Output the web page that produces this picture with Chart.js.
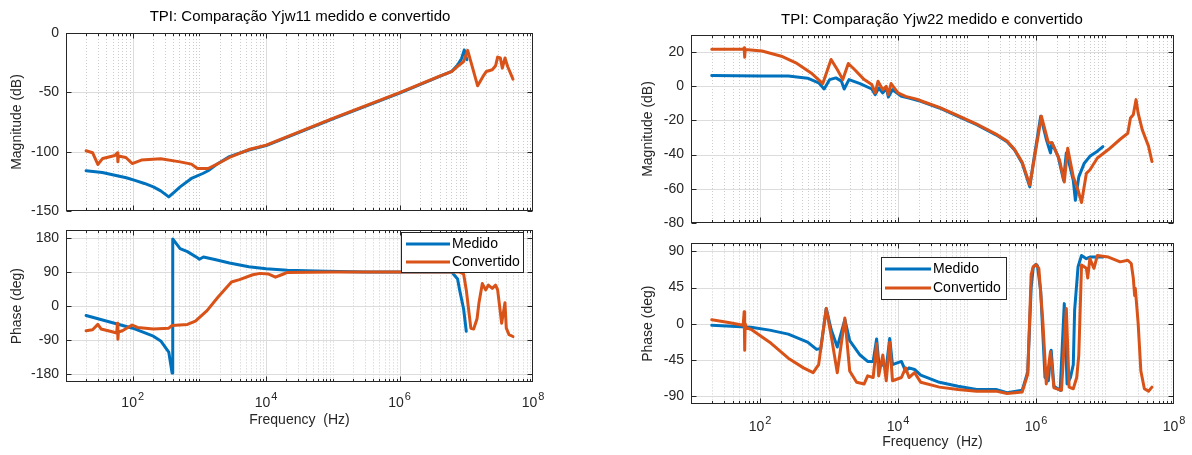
<!DOCTYPE html>
<html><head><meta charset="utf-8">
<script src="https://cdn.jsdelivr.net/npm/chart.js@4.4.1/dist/chart.umd.min.js"></script>
<style>
html,body{margin:0;padding:0;background:#fff;overflow:hidden;}
body{width:1192px;height:455px;position:relative;}
canvas{position:absolute;}
</style></head><body>
<canvas id="mag11" width="600" height="230" style="left:0px;top:0px;width:600px;height:230px"></canvas>
<canvas id="ph11" width="600" height="240" style="left:0px;top:215px;width:600px;height:240px"></canvas>
<canvas id="mag22" width="600" height="240" style="left:632px;top:0px;width:600px;height:240px"></canvas>
<canvas id="ph22" width="600" height="227" style="left:632px;top:228px;width:600px;height:227px"></canvas>
<script>
// ---------------- DATA ----------------
const seriesNames = ['Medido', 'Convertido'];
const xTickValues = [1e2, 1e4, 1e6, 1e8];
const xTickBase = ['10', '10', '10', '10'];
const xTickExp = ['2', '4', '6', '8'];
const titles = ['TPI: Comparação Yjw11 medido e convertido', 'TPI: Comparação Yjw22 medido e convertido'];
const mag11Ticks = [-150, -100, -50, 0];
const ph11Ticks = [-180, -90, 0, 90, 180];
const mag22Ticks = [-80, -60, -40, -20, 0, 20];
const ph22Ticks = [-90, -45, 0, 45, 90];

// Yjw11 magnitude
const f11MagMed = [20, 35, 54, 80, 105, 150, 204, 263, 347, 420, 513, 759, 1122, 1349, 1905, 2818, 5495, 1e4, 1e5, 1e6, 4.07e6, 6.03e6, 7.41e6, 8.51e6, 9.33e6, 1.02e7];
const mag11Med = [-116.1, -117.5, -119.8, -122, -124, -126.8, -129.7, -133, -138.1, -134, -129.7, -122.6, -118.4, -116.1, -109.9, -104.2, -98.6, -94.9, -72.4, -50.6, -36.3, -32.4, -27, -21.5, -14.3, -22.5];
const f11MagConv = [20, 25, 30, 35.5, 54, 59, 60, 61, 79, 98, 135, 263, 513, 759, 933, 1349, 1905, 2818, 5495, 1e4, 1e5, 1e6, 4.07e6, 6.03e6, 7.41e6, 9.12e6, 1.05e7, 1.48e7, 1.78e7, 2.0e7, 2.45e7, 2.75e7, 2.95e7, 3.24e7, 3.47e7, 3.8e7, 4.17e7, 5.01e7];
const mag11Conv = [-99.2, -100.9, -110.8, -105.7, -103.2, -101, -108.6, -103.7, -104.9, -110, -107.1, -106, -108.6, -110.5, -114.2, -114.2, -110, -104.9, -98.2, -94.5, -72, -50.2, -36.2, -32.5, -28.2, -24, -14.6, -44.5, -36.6, -32.4, -31, -27.6, -20.3, -21.1, -29.6, -21.1, -28.2, -38.9];
// Yjw11 phase
const f11PhMed = [20, 100, 204, 263, 347, 389, 398, 513, 661, 933, 1000, 1148, 1698, 2818, 5495, 1e4, 20893, 77625, 316228, 6.03e6, 7.41e6, 7.94e6, 9.12e6, 1e7];
const ph11Med = [-24.4, -58, -79, -91.6, -121, -176, 177.5, 152, 144, 128, 124, 130, 123, 114, 104, 99, 95, 92, 90.5, 90, 72, 43, -7.5, -66];
const f11PhConv = [20, 25, 30, 33.5, 46, 57.5, 59, 60, 61, 70, 98, 118, 204, 347, 389, 661, 871, 1300, 1905, 3020, 3981, 6310, 8128, 10715, 13800, 18197, 20893, 1e5, 7.94e6, 9.12e6, 1e7, 1.17e7, 1.29e7, 1.45e7, 1.55e7, 1.74e7, 1.95e7, 2.14e7, 2.45e7, 2.75e7, 2.95e7, 3.39e7, 3.8e7, 3.98e7, 4.37e7, 5.01e7];
const ph11Conv = [-64.7, -62, -48, -60, -66, -70.6, -45, -87, -68, -64.7, -49.6, -56, -60, -58, -51, -48, -39.5, -11.7, 24.4, 64, 70, 83, 86.6, 85, 76.6, 85, 89, 90, 90, 85, 43, -58, -60, -33, 9, 59.7, 43, 55.5, 47, 55.5, 43, -45, 9, -58, -75, -80];

// Yjw22 magnitude
const f22MagMed = [20, 100, 257, 490, 708, 851, 1023, 1259, 1514, 1660, 1950, 2818, 4169, 4677, 5248, 6026, 6761, 7244, 8318, 11220, 14454, 21380, 39811, 74131, 138038, 263027, 380189, 489779, 630957, 812831, 912011, 1.17e6, 1.41e6, 1.62e6, 1.70e6, 2.09e6, 2.51e6, 2.75e6, 3.02e6, 3.47e6, 3.72e6, 4.17e6, 5.01e6, 6.03e6, 7.76e6, 9.33e6];
const mag22Med = [6.3, 6.0, 6.0, 4.7, 2, -1.6, 3.9, 4.9, 3, -1.6, 3.9, 1.6, -1.6, -4.9, -1, -3.9, -1, -6.3, -2, -5.9, -6.9, -8.8, -12.7, -17.6, -22.5, -28.4, -32.4, -37.3, -45, -58.8, -45, -17.6, -31, -39, -33, -41, -55, -39, -45, -55, -66.7, -53, -45, -41, -38, -35.3];
const f22MagConv = [20, 57, 59, 60, 61, 107, 204, 331, 550, 813, 1072, 1318, 1585, 1905, 2344, 3236, 4169, 4677, 5129, 6026, 6761, 7244, 7943, 10000, 12882, 18621, 23988, 39811, 74131, 138038, 263027, 380189, 489779, 630957, 812831, 912011, 1.2e6, 1.51e6, 1.70e6, 2.19e6, 2.57e6, 2.88e6, 3.47e6, 4.07e6, 4.57e6, 5.37e6, 6.03e6, 7.76e6, 1.12e7, 1.66e7, 2.14e7, 2.34e7, 2.57e7, 2.82e7, 3.02e7, 3.47e7, 4.27e7, 4.79e7];
const mag22Conv = [21.6, 21.6, 22.5, 17, 21.5, 20.6, 17.6, 13.7, 7.8, 1.6, 15.7, 9.8, 3.9, 13.3, 9.8, 3.9, 1, -3.9, 2.9, -2, 0, -4.9, 1.6, -3.9, -5.9, -7.5, -9.2, -12.3, -17.2, -22.1, -28, -32, -37, -44.5, -57.8, -46, -17.6, -33, -33, -43, -56, -36.3, -53, -60.8, -68, -51, -49, -42, -37, -31, -27.5, -18.6, -16.7, -7.8, -15.7, -25.5, -35, -44];
// Yjw22 phase
const f22PhMed = [20, 74, 138, 257, 490, 661, 759, 912, 1072, 1318, 1698, 1995, 2818, 3631, 4365, 4898, 5248, 6761, 7586, 8318, 11220, 12882, 14454, 17378, 21380, 39811, 74131, 138038, 263027, 380189, 630957, 758578, 851138, 912011, 1e6, 1.05e6, 1.17e6, 1.35e6, 1.51e6, 1.66e6, 1.82e6, 2.24e6, 2.57e6, 2.82e6, 3.16e6, 3.47e6, 3.63e6, 4.07e6, 4.57e6, 5.37e6, 6.03e6, 9.33e6];
const ph22Med = [-2, -4.4, -8, -13, -23, -32, -31, 19, -7, -29, 5, -21, -39, -47, -47, -19, -47, -55, -18.4, -51, -47, -59, -55, -57, -64, -73, -78, -82, -82, -86, -83, -60, 45, 70, 74, 72, 40.8, -67, -71, -33, -78, -83, 25, -75, -67, -51, 17, 71, 85, 81, 83, 83];
const f22PhConv = [20, 35, 57, 59, 60, 61, 63, 74, 138, 257, 427, 589, 708, 912, 1096, 1318, 1698, 1995, 2512, 3236, 3631, 4365, 4898, 5248, 6026, 6761, 7586, 8318, 11220, 12882, 14454, 17378, 21380, 39811, 74131, 138038, 263027, 380189, 630957, 758578, 851138, 912011, 1e6, 1.1e6, 1.26e6, 1.41e6, 1.62e6, 1.82e6, 2.34e6, 2.75e6, 3.02e6, 3.47e6, 3.89e6, 4.17e6, 4.57e6, 5.37e6, 5.62e6, 6.03e6, 6.92e6, 7.76e6, 1.12e7, 1.66e7, 2.14e7, 2.4e7, 2.57e7, 2.69e7, 2.75e7, 3.02e7, 3.31e7, 3.72e7, 4.27e7, 4.79e7];
const ph22Conv = [5, 1.6, -2, 15, -33, 0, -5, -7, -23, -43, -55, -61, -51, 19, -19, -61, 7, -59, -73, -75, -65, -67, -25, -65, -39, -71, -23, -71, -67, -55, -67, -61, -73, -79, -82, -84, -84, -87, -85, -63, 61, 71, 73.6, 69, 1, -75, -35, -80, -83, 19, -79, -81, -67, -39, 73, 69, 57, 81, 69, 85, 83, 77, 79, 75, 57, 35, 44, 1, -59, -81, -84, -79];

// ---------------- STYLE ----------------
const FONT = '"Liberation Sans", Arial, Helvetica, sans-serif';
const TXT = '#262626';
const BLUE = '#0072BD';
const ORANGE = '#D95319';

const axesPlugin = {
  id: 'matlabAxes',
  beforeDatasetsDraw(chart) {
    const {ctx, chartArea: a} = chart;
    const x = chart.scales.x, y = chart.scales.y;
    ctx.save();
    ctx.lineWidth = 1;
    ctx.strokeStyle = '#cccccc';
    ctx.setLineDash([1, 2]);
    for (let e = 1; e < 8; e++) for (let m = 1; m <= 9; m++) {
      const v = m * Math.pow(10, e);
      if (v <= x.min || v >= x.max || xTickValues.includes(v)) continue;
      const px = Math.round(x.getPixelForValue(v)) + 0.5;
      ctx.beginPath(); ctx.moveTo(px, a.top); ctx.lineTo(px, a.bottom); ctx.stroke();
    }
    ctx.setLineDash([]);
    ctx.strokeStyle = '#dcdcdc';
    xTickValues.forEach(v => {
      if (v <= x.min || v >= x.max) return;
      const px = Math.round(x.getPixelForValue(v)) + 0.5;
      ctx.beginPath(); ctx.moveTo(px, a.top); ctx.lineTo(px, a.bottom); ctx.stroke();
    });
    y.ticks.forEach(t => {
      const py = Math.round(y.getPixelForValue(t.value)) + 0.5;
      if (py <= a.top + 1 || py >= a.bottom - 1) return;
      ctx.beginPath(); ctx.moveTo(a.left, py); ctx.lineTo(a.right, py); ctx.stroke();
    });
    ctx.restore();
  },
  afterDatasetsDraw(chart) {
    const {ctx, chartArea: a} = chart;
    const x = chart.scales.x, y = chart.scales.y;
    ctx.save();
    ctx.strokeStyle = TXT;
    ctx.lineWidth = 1;
    const L = Math.round(a.left) + 0.5, R = Math.round(a.right) - 0.5;
    const T = Math.round(a.top) + 0.5, B = Math.round(a.bottom) - 0.5;
    for (let e = 1; e < 8; e++) for (let m = 1; m <= 9; m++) {
      const v = m * Math.pow(10, e);
      if (v <= x.min || v >= x.max) continue;
      const len = xTickValues.includes(v) ? 5 : 2.5;
      const px = Math.round(x.getPixelForValue(v)) + 0.5;
      ctx.beginPath(); ctx.moveTo(px, B); ctx.lineTo(px, B - len); ctx.moveTo(px, T); ctx.lineTo(px, T + len); ctx.stroke();
    }
    y.ticks.forEach(t => {
      const py = Math.round(y.getPixelForValue(t.value)) + 0.5;
      ctx.beginPath(); ctx.moveTo(L, py); ctx.lineTo(L + 5, py); ctx.moveTo(R, py); ctx.lineTo(R - 5, py); ctx.stroke();
    });
    ctx.strokeRect(L, T, R - L, B - T);
    ctx.restore();
  },
  afterDraw(chart) {
    const opts = chart.options.plugins.matlabAxes || {};
    const ctx = chart.ctx;
    // x tick labels: 10 with raised exponent, positioned by the x scale
    if (opts.labelBaseline) {
      const x = chart.scales.x, a = chart.chartArea;
      const by = a.bottom + opts.labelBaseline;
      ctx.save();
      ctx.fillStyle = TXT;
      ctx.textBaseline = 'alphabetic'; ctx.textAlign = 'left';
      xTickValues.forEach((v, i) => {
        const px = x.getPixelForValue(v);
        ctx.font = '14px ' + FONT;
        const wb = ctx.measureText(xTickBase[i]).width;
        ctx.font = '11px ' + FONT;
        const we = ctx.measureText(xTickExp[i]).width;
        const x0 = px - (wb + 1 + we) / 2;
        ctx.font = '14px ' + FONT;
        ctx.fillText(xTickBase[i], x0, by);
        ctx.font = '11px ' + FONT;
        ctx.fillText(xTickExp[i], x0 + wb + 1, by - 7.5);
      });
      ctx.restore();
    }
    const lg = opts.legend;
    if (!lg) return;
    ctx.save();
    ctx.fillStyle = '#fff';
    ctx.fillRect(lg.x, lg.y, lg.w, lg.h);
    ctx.strokeStyle = TXT; ctx.lineWidth = 1;
    ctx.strokeRect(lg.x + 0.5, lg.y + 0.5, lg.w, lg.h);
    chart.data.datasets.forEach((ds, i) => {
      const yy = lg.rows[i];
      ctx.strokeStyle = ds.borderColor; ctx.lineWidth = ds.borderWidth;
      ctx.beginPath(); ctx.moveTo(lg.x0, yy); ctx.lineTo(lg.x1, yy); ctx.stroke();
      ctx.fillStyle = '#000';
      ctx.font = '14px ' + FONT;
      ctx.textBaseline = 'middle'; ctx.textAlign = 'left';
      ctx.fillText(ds.label, lg.tx, yy);
    });
    ctx.restore();
  }
};

function pts(fs, vs) { return fs.map((f, i) => ({x: f, y: vs[i]})); }

function makeChart(id, o) {
  const ds = [
    {label: seriesNames[0], data: pts(o.fMed, o.vMed), borderColor: BLUE, order: 1},
    {label: seriesNames[1], data: pts(o.fConv, o.vConv), borderColor: ORANGE, order: 0}
  ].map(d => Object.assign(d, {borderWidth: 3, pointRadius: 0, fill: false, tension: 0, borderJoinStyle: 'round', borderCapStyle: 'round'}));
  return new Chart(document.getElementById(id), {
    type: 'line',
    data: {datasets: ds},
    plugins: [axesPlugin],
    options: {
      responsive: false, animation: false, devicePixelRatio: 1,
      events: [],
      layout: {padding: o.padding},
      plugins: {
        legend: {display: false},
        tooltip: {enabled: false},
        title: o.title ? {display: true, text: o.title, color: '#000', font: {family: FONT, size: 15, weight: 'normal', lineHeight: '18px'}, padding: o.titlePad} : {display: false},
        matlabAxes: {legend: o.legend || null, labelBaseline: o.labelBaseline || 0}
      },
      scales: {
        x: {
          type: 'logarithmic', min: 10, max: 1e8,
          display: o.showX,
          afterBuildTicks: s => { s.ticks = xTickValues.map(v => ({value: v})); },
          afterFit: s => { s.height = o.xHeight || 0; },
          grid: {display: false, drawTicks: false, tickLength: 0},
          border: {display: false},
          ticks: {display: false},
          title: {display: o.showX, text: 'Frequency  (Hz)', color: TXT, font: {family: FONT, size: 14, lineHeight: '17px'}, padding: {top: 0, bottom: o.xTitlePad || 0}}
        },
        y: {
          type: 'linear', min: o.yMin, max: o.yMax,
          afterBuildTicks: s => { s.ticks = o.yTicks.map(v => ({value: v})); },
          afterFit: s => { s.width = o.yWidth; },
          grid: {display: false, drawTicks: false, tickLength: 0},
          border: {display: false},
          ticks: {autoSkip: false, padding: 7, color: TXT, font: {family: FONT, size: 14}},
          title: {display: true, text: o.yTitle, color: TXT, font: {family: FONT, size: 14, lineHeight: '17px'}, padding: {top: o.yTitlePad, bottom: 0}}
        },
        yRight: {
          type: 'linear', position: 'right', min: o.yMin, max: o.yMax, display: true,
          afterFit: s => { s.width = o.rightWidth; },
          grid: {display: false, drawTicks: false, tickLength: 0},
          border: {display: false},
          ticks: {display: false}
        }
      }
    }
  });
}

makeChart('mag11', {
  fMed: f11MagMed, vMed: mag11Med, fConv: f11MagConv, vConv: mag11Conv,
  title: titles[0], titlePad: {top: 7.7, bottom: 7.3},
  padding: {left: 0, right: 0, top: 0, bottom: 19}, rightWidth: 67,
  showX: false, yMin: -150, yMax: 0, yTicks: mag11Ticks, yWidth: 66,
  yTitle: 'Magnitude (dB)', yTitlePad: 8.8
});
makeChart('ph11', {
  fMed: f11PhMed, vMed: ph11Med, fConv: f11PhConv, vConv: ph11Conv,
  padding: {left: 0, right: 0, top: 9, bottom: 0}, rightWidth: 67,
  showX: true, xHeight: 73, xTitlePad: 26.5, labelBaseline: 25,
  yMin: -200, yMax: 200, yTicks: ph11Ticks, yWidth: 66,
  yTitle: 'Phase (deg)', yTitlePad: 8.8,
  legend: {x: 401, y: 17, w: 122, h: 40, rows: [29, 47], x0: 406, x1: 450, tx: 452}
});
makeChart('mag22', {
  fMed: f22MagMed, vMed: mag22Med, fConv: f22MagConv, vConv: mag22Conv,
  title: titles[1], titlePad: {top: 11, bottom: 6},
  padding: {left: 0, right: 0, top: 0, bottom: 17}, rightWidth: 58,
  showX: false, yMin: -80, yMax: 30, yTicks: mag22Ticks, yWidth: 59,
  yTitle: 'Magnitude (dB)', yTitlePad: 7.7
});
makeChart('ph22', {
  fMed: f22PhMed, vMed: ph22Med, fConv: f22PhConv, vConv: ph22Conv,
  padding: {left: 0, right: 0, top: 10, bottom: 0}, rightWidth: 58,
  showX: true, xHeight: 51, xTitlePad: 4.8, labelBaseline: 27,
  yMin: -100, yMax: 100, yTicks: ph22Ticks, yWidth: 59,
  yTitle: 'Phase (deg)', yTitlePad: 7.7,
  legend: {x: 249, y: 29, w: 125, h: 42, rows: [41, 60], x0: 253, x1: 299, tx: 301}
});
</script>
</body></html>
